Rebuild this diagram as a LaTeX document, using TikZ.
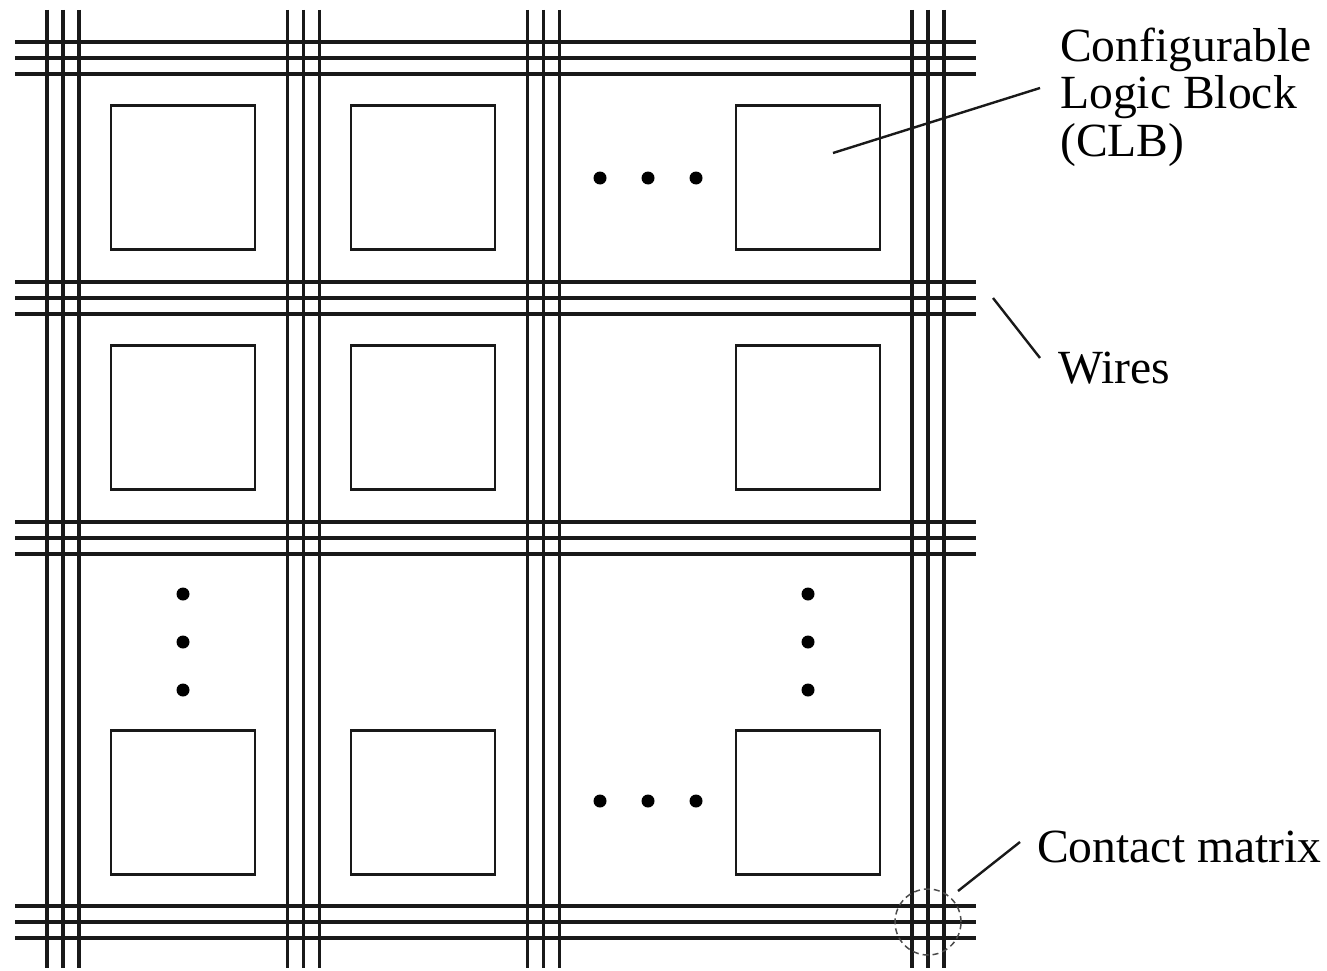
\documentclass[tikz,border=0pt]{standalone}
\usepackage{fontspec}
\setmainfont{Liberation Serif}
\begin{document}
\begin{tikzpicture}[x=1pt,y=-1pt,
  wire/.style={line width=3.2pt,black!90},
  clb/.style={draw,line width=2.6pt,black!90,minimum size=144pt,inner sep=0pt},
  dotmark/.style={circle,fill=black,minimum size=13pt,inner sep=0pt},
  leader/.style={line width=2.4pt,black!90},
  lbl/.style={font=\fontsize{47.6}{47}\selectfont,inner sep=0pt,text=black},
  cmatrix/.style={circle,draw,dash pattern=on 6pt off 4pt,line width=1.5pt,black!70,minimum size=66pt,inner sep=0pt}]
\useasboundingbox (0,0) rectangle (1327,971);
% vertical wires
\foreach \cx in {63,303.5,543.5,928}{
  \foreach \d in {-16,0,16}{
    \draw[wire] (\cx+\d,10) -- (\cx+\d,968);
  }
}
% horizontal wires
\foreach \cy in {58,298,538,922}{
  \foreach \d in {-16,0,16}{
    \draw[wire] (15,\cy+\d) -- (976,\cy+\d);
  }
}
% logic blocks
\node[clb] (b11) at (183,177.5) {};
\node[clb] (b12) at (423,177.5) {};
\node[clb] (b13) at (808,177.5) {};
\node[clb] (b21) at (183,417.5) {};
\node[clb] (b22) at (423,417.5) {};
\node[clb] (b23) at (808,417.5) {};
\node[clb] (b31) at (183,802.5) {};
\node[clb] (b32) at (423,802.5) {};
\node[clb] (b33) at (808,802.5) {};
% dots
\node[dotmark] (d1) at (600,178) {};
\node[dotmark] (d2) at (648,178) {};
\node[dotmark] (d3) at (696,178) {};
\node[dotmark] (d4) at (600,801) {};
\node[dotmark] (d5) at (648,801) {};
\node[dotmark] (d6) at (696,801) {};
\node[dotmark] (d7) at (183,594) {};
\node[dotmark] (d8) at (183,642) {};
\node[dotmark] (d9) at (183,690) {};
\node[dotmark] (d10) at (808,594) {};
\node[dotmark] (d11) at (808,642) {};
\node[dotmark] (d12) at (808,690) {};
% contact matrix
\node[cmatrix] (cm) at (928,922) {};
% labels
\node[lbl,anchor=base west] (lclb1) at (1060,62) {Configurable};
\node[lbl,anchor=base west] (lclb2) at (1060,109) {Logic Block};
\node[lbl,anchor=base west] (lclb3) at (1060,156) {(CLB)};
\node[lbl,anchor=base west] (lwires) at (1058,383) {Wires};
\node[lbl,anchor=base west] (lcm) at (1037,862) {Contact matrix};
% leader lines
\coordinate (pclb) at (833,153);
\coordinate (eclb) at (1040,88);
\coordinate (pw) at (993,298);
\coordinate (ew) at (1040,358);
\coordinate (pcm) at (958,891);
\coordinate (ecm) at (1020,842);
\draw[leader] (pclb) -- (eclb);
\draw[leader] (pw) -- (ew);
\draw[leader] (pcm) -- (ecm);
\end{tikzpicture}
\end{document}
